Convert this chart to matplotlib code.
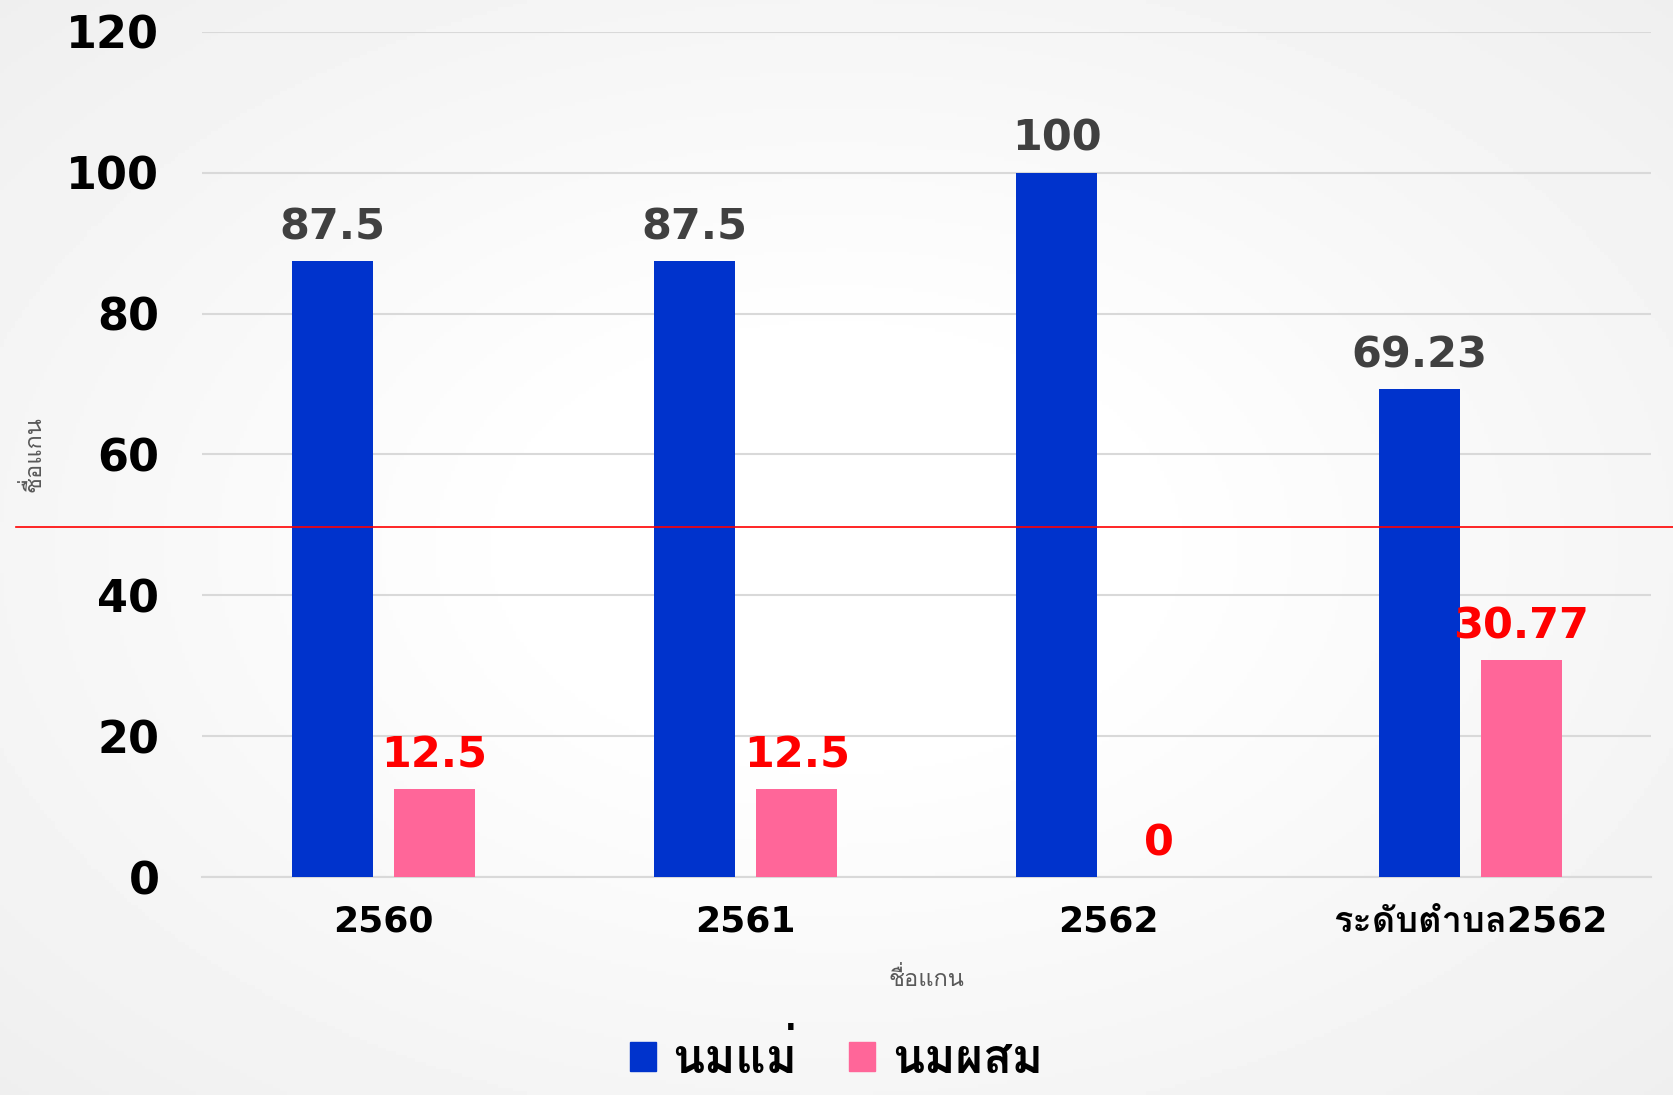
import numpy as np
import matplotlib
matplotlib.use("Agg")
import matplotlib.pyplot as plt
from matplotlib.patches import Patch

plt.rcParams['font.family'] = ['DejaVu Sans', 'Loma']

categories = ['2560', '2561', '2562', 'ระดับตำบล2562']
breast_milk = [87.5, 87.5, 100, 69.23]
formula_milk = [12.5, 12.5, 0, 30.77]
breast_labels = ['87.5', '87.5', '100', '69.23']
formula_labels = ['12.5', '12.5', '0', '30.77']
series_names = ['นมแม่', 'นมผสม']
yticks = [0, 20, 40, 60, 80, 100, 120]
ref_line = 49.7

blue = '#0033CC'
pink = '#FF6699'

fig = plt.figure(figsize=(16.73, 10.95), dpi=100)

# soft radial background, white in the middle and grey at the edges
bg = fig.add_axes([0, 0, 1, 1], zorder=-10)
yy, xx = np.mgrid[-1:1:300j, -1:1:460j]
r = np.sqrt(xx ** 2 + yy ** 2)
bg.imshow(1 - 0.06 * np.clip(r - 0.35, 0, None), cmap='gray', vmin=0, vmax=1,
          aspect='auto', extent=[0, 1, 0, 1])
bg.axis('off')

ax = fig.add_axes([0.121, 0.199, 0.866, 0.772])
ax.patch.set_alpha(0)

x = np.arange(len(categories))
w = 0.224
off = 0.141
ax.bar(x - off, breast_milk, w, color=blue, zorder=3)
ax.bar(x + off, formula_milk, w, color=pink, zorder=3)

for xi, v, s in zip(x, breast_milk, breast_labels):
    ax.text(xi - off, v + 1.8, s, ha='center', va='bottom', fontsize=31,
            fontweight='bold', color='#404040', zorder=4)
for xi, v, s in zip(x, formula_milk, formula_labels):
    ax.text(xi + off, v + 1.8, s, ha='center', va='bottom', fontsize=31,
            fontweight='bold', color='#FF0000', zorder=4)

ax.set_xlim(-0.5, 3.5)
ax.set_ylim(0, 120)
ax.set_yticks(yticks)
ax.set_yticklabels([str(t) for t in yticks], fontsize=32, fontweight='bold')
ax.set_xticks(x)
ax.set_xticklabels(categories, fontsize=26, fontweight='bold')
ax.tick_params(length=0)
ax.tick_params(axis='y', pad=31)
ax.tick_params(axis='x', pad=20)
ax.grid(axis='y', color='#D9D9D9', linewidth=1.5, zorder=0)
for sp in ['top', 'right', 'left']:
    ax.spines[sp].set_visible(False)
ax.spines['bottom'].set_color('#D9D9D9')
ax.spines['bottom'].set_linewidth(1.5)

ax.set_xlabel('ชื่อแกน', fontsize=17, color='#595959', labelpad=20)
ax.set_ylabel('ชื่อแกน', fontsize=17, color='#595959')
ax.yaxis.set_label_coords(-0.108, 0.5)

# red reference line drawn across the slide
ax.axhline(ref_line, xmin=-0.129, xmax=1.02, color='#FF0000', linewidth=1.2,
           clip_on=False, zorder=5)

handles = [Patch(color=blue), Patch(color=pink)]
fig.legend(handles, series_names, loc='lower center', bbox_to_anchor=(0.5, -0.028),
           ncol=2, frameon=False, prop={'size': 34, 'weight': 'bold'},
           handlelength=0.55, handleheight=0.55, handletextpad=0.35, columnspacing=1.1)

fig.savefig('out.png', dpi=100)
